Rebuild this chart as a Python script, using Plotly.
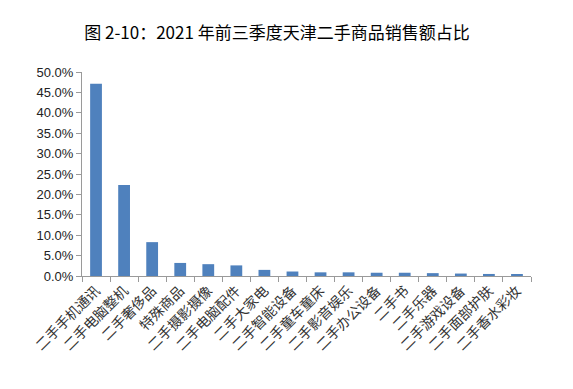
import plotly.graph_objects as go

title_text = "图 2-10：2021 年前三季度天津二手商品销售额占比"
categories = ["二手手机通讯", "二手电脑整机", "二手奢侈品", "特殊商品", "二手摄影摄像",
              "二手电脑配件", "二手大家电", "二手智能设备", "二手童车童床", "二手影音娱乐",
              "二手办公设备", "二手书", "二手乐器", "二手游戏设备", "二手面部护肤", "二手香水彩妆"]
share_pct = [47.1, 22.3, 8.3, 3.2, 2.9, 2.6, 1.5, 1.1, 0.9, 0.9, 0.8, 0.8, 0.7, 0.6, 0.5, 0.4]
y_ticks = [0, 5, 10, 15, 20, 25, 30, 35, 40, 45, 50]
y_tick_labels = [f"{v:.1f}%" for v in y_ticks]

fig = go.Figure(go.Bar(
    x=categories, y=share_pct,
    marker=dict(color="#4F81BD", line=dict(width=0)),
    width=0.42,
))

fig.update_layout(
    width=565, height=381,
    margin=dict(l=74, r=42, t=64, b=113, autoexpand=False),
    paper_bgcolor="white", plot_bgcolor="white",
    showlegend=False,
    title=dict(text=title_text, x=0.476, xanchor="center", y=0.934, yanchor="middle",
               font=dict(family="Noto Sans CJK SC", size=17, color="#000000")),
    font=dict(family="Liberation Sans, Arial", size=13, color="#333333"),
)
fig.update_xaxes(
    type="category", tickangle=-45, automargin=False,
    tickfont=dict(family="Noto Sans CJK SC", size=14, color="#333333"),
    showline=True, linecolor="#9a9a9a", linewidth=1,
    ticks="outside", ticklen=5, tickcolor="#9a9a9a", tickson="boundaries",
    showgrid=False,
)
fig.update_yaxes(
    range=[0, 50], tickvals=y_ticks, ticktext=y_tick_labels, automargin=False,
    showline=True, linecolor="#9a9a9a", linewidth=1,
    ticks="outside", ticklen=5, tickcolor="#9a9a9a",
    showgrid=False, zeroline=False,
    tickfont=dict(family="Liberation Sans, Arial", size=13, color="#222222"),
)

fig.write_html("out.html")
